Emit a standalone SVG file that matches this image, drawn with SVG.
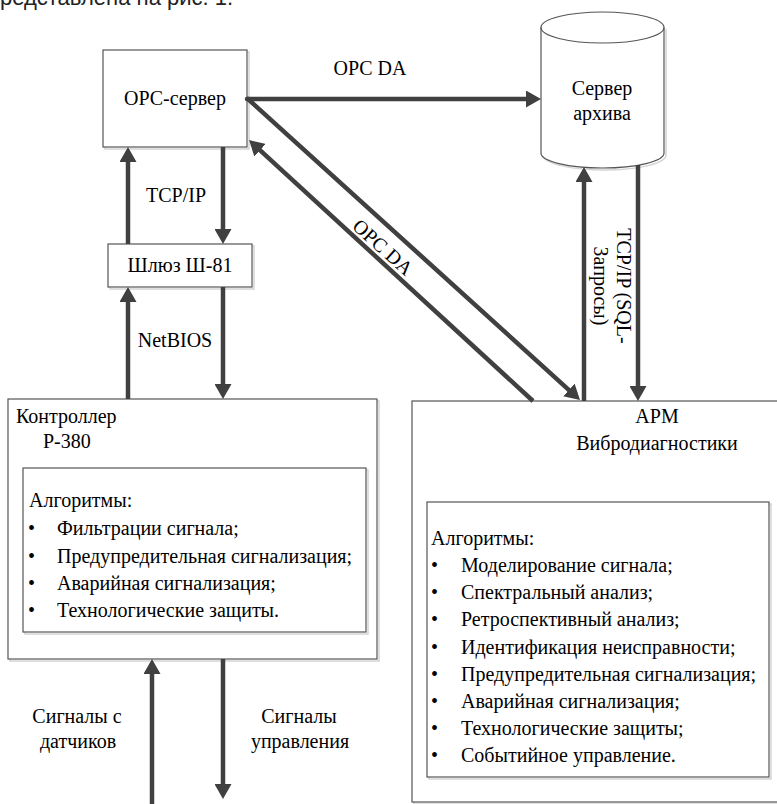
<svg xmlns="http://www.w3.org/2000/svg" width="777" height="804" viewBox="0 0 777 804">
<style>
.t{font-family:"Liberation Serif","Times New Roman",serif;font-size:20px;fill:#000}
.c{text-anchor:middle}
.box{fill:#fff;stroke:#555;stroke-width:1.2}
.sh{fill:none;stroke:#d4d4d4;stroke-width:1.5}
.ar{stroke:#404040;stroke-width:4.5;fill:none}
</style>
<defs>
<marker id="ah" markerUnits="userSpaceOnUse" markerWidth="15" markerHeight="17" refX="5" refY="8.5" orient="auto">
<path d="M0,0 L15,8.5 L0,17 z" fill="#404040"/>
</marker>
</defs>
<rect width="777" height="804" fill="#fff"/>
<text x="-12" y="5" style="font-family:'Liberation Sans',Arial,sans-serif;font-size:22px;fill:#222">представлена на рис. 1.</text>

<g id="opc">
<rect class="sh" x="105" y="52" width="144" height="97"/>
<rect class="box" x="103" y="50" width="144" height="97"/>
<text class="t c" x="175" y="105">OPC-сервер</text>
</g>

<g id="gateway">
<rect class="sh" x="110" y="246" width="144" height="43"/>
<rect class="box" x="108" y="244" width="144" height="43"/>
<text class="t c" x="180" y="272">Шлюз Ш-81</text>
</g>

<g id="archive">
<path class="sh" d="M543,29 V155 A61.5,15 0 0 0 666,155 V29"/>
<path d="M541,27.5 A61.5,15.5 0 0 1 664,27.5 V153 A61.5,15 0 0 1 541,153 Z" fill="#fff" stroke="#555" stroke-width="1.2"/>
<path d="M541,27.5 A61.5,15.5 0 0 0 664,27.5" fill="none" stroke="#555" stroke-width="1.2"/>
<text class="t c" x="602" y="95">Сервер</text>
<text class="t c" x="602" y="120">архива</text>
</g>

<g id="controller">
<rect class="sh" x="10" y="401" width="369" height="260"/>
<rect class="box" x="8" y="399" width="369" height="260"/>
<text class="t" x="16" y="423">Контроллер</text>
<text class="t" x="43" y="448">P-380</text>
<rect class="sh" x="25" y="470" width="343" height="164"/>
<rect class="box" x="23" y="468" width="343" height="164"/>
<text class="t" x="29" y="507">Алгоритмы:</text>
<g class="t">
<text x="28" y="535">•</text><text x="57" y="535">Фильтрации сигнала;</text>
<text x="28" y="563">•</text><text x="57" y="563">Предупредительная сигнализация;</text>
<text x="28" y="590">•</text><text x="57" y="590">Аварийная сигнализация;</text>
<text x="28" y="617">•</text><text x="57" y="617">Технологические защиты.</text>
</g>
</g>

<g id="arm">
<rect class="sh" x="414" y="403" width="380" height="401"/>
<rect class="box" x="412" y="401" width="380" height="401"/>
<text class="t c" x="657" y="423">APM</text>
<text class="t c" x="657" y="450">Вибродиагностики</text>
<rect class="sh" x="429" y="504" width="342" height="275"/>
<rect class="box" x="427" y="502" width="342" height="275"/>
<text class="t" x="431" y="545">Алгоритмы:</text>
<g class="t">
<text x="431" y="572">•</text><text x="461" y="572">Моделирование сигнала;</text>
<text x="431" y="599">•</text><text x="461" y="599">Спектральный анализ;</text>
<text x="431" y="626">•</text><text x="461" y="626">Ретроспективный анализ;</text>
<text x="431" y="654">•</text><text x="461" y="654">Идентификация неисправности;</text>
<text x="431" y="681">•</text><text x="461" y="681">Предупредительная сигнализация;</text>
<text x="431" y="708">•</text><text x="461" y="708">Аварийная сигнализация;</text>
<text x="431" y="735">•</text><text x="461" y="735">Технологические защиты;</text>
<text x="431" y="762">•</text><text x="461" y="762">Событийное управление.</text>
</g>
</g>

<g id="connectors">
<line class="ar" x1="128" y1="244" x2="128" y2="157" marker-end="url(#ah)"/>
<line class="ar" x1="223" y1="147" x2="223" y2="234" marker-end="url(#ah)"/>
<line class="ar" x1="128" y1="399" x2="128" y2="297" marker-end="url(#ah)"/>
<line class="ar" x1="223" y1="287" x2="223" y2="389" marker-end="url(#ah)"/>
<line class="ar" x1="247" y1="99" x2="531" y2="99" marker-end="url(#ah)" stroke-linecap="round"/>
<line class="ar" x1="248" y1="99" x2="572.6" y2="393.3" marker-end="url(#ah)" stroke-linecap="round"/>
<line class="ar" x1="533" y1="401" x2="256.4" y2="146.8" marker-end="url(#ah)"/>
<line class="ar" x1="584" y1="401" x2="584" y2="177" marker-end="url(#ah)"/>
<line class="ar" x1="638" y1="165" x2="638" y2="391" marker-end="url(#ah)"/>
<line class="ar" x1="152" y1="806" x2="152" y2="669" marker-end="url(#ah)"/>
<line class="ar" x1="223" y1="659" x2="223" y2="789" marker-end="url(#ah)"/>
<text class="t c" x="176" y="202">TCP/IP</text>
<text class="t c" x="175" y="347">NetBIOS</text>
<text class="t c" x="370" y="75">OPC DA</text>
<text class="t c" transform="translate(383,247) rotate(42)" x="0" y="7">OPC DA</text>
<g class="t c" transform="translate(617,286) rotate(90)">
<text x="0" y="0">TCP/IP (SQL-</text>
<text x="0" y="23">Запросы)</text>
</g>
<text class="t c" x="77" y="723">Сигналы с</text>
<text class="t c" x="78" y="748">датчиков</text>
<text class="t c" x="299" y="723">Сигналы</text>
<text class="t c" x="300" y="748">управления</text>
</g>
</svg>
